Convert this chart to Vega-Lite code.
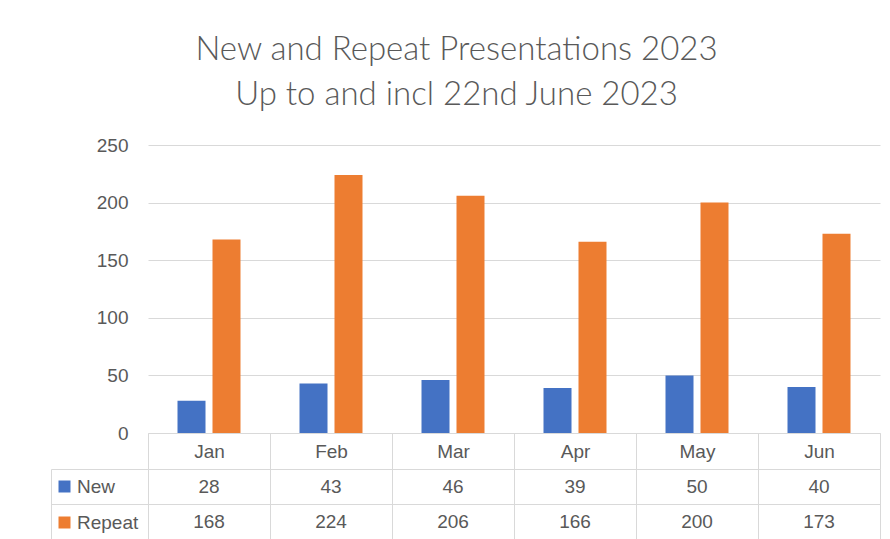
{
  "$schema": "https://vega.github.io/schema/vega-lite/v6.json",
  "background": "white",
  "padding": {"left": 50, "top": 34, "right": 5, "bottom": 0},
  "title": {
    "text": ["New and Repeat Presentations 2023", "Up to and incl 22nd June 2023"],
    "font": "Lato",
    "fontSize": 33,
    "fontWeight": 300,
    "color": "#595959",
    "lineHeight": 45,
    "anchor": "middle",
    "dx": -9,
    "offset": 24
  },
  "data": {
    "values": [
      {"month": "Jan", "series": "New", "value": 28},
      {"month": "Feb", "series": "New", "value": 43},
      {"month": "Mar", "series": "New", "value": 46},
      {"month": "Apr", "series": "New", "value": 39},
      {"month": "May", "series": "New", "value": 50},
      {"month": "Jun", "series": "New", "value": 40},
      {"month": "Jan", "series": "Repeat", "value": 168},
      {"month": "Feb", "series": "Repeat", "value": 224},
      {"month": "Mar", "series": "Repeat", "value": 206},
      {"month": "Apr", "series": "Repeat", "value": 166},
      {"month": "May", "series": "Repeat", "value": 200},
      {"month": "Jun", "series": "Repeat", "value": 173}
    ]
  },
  "spacing": 36,
  "bounds": "flush",
  "resolve": {"legend": {"color": "independent"}},
  "vconcat": [
    {
      "width": 732,
      "height": 288,
      "mark": {"type": "bar"},
      "encoding": {
        "x": {
          "field": "month", "type": "nominal",
          "sort": ["Jan", "Feb", "Mar", "Apr", "May", "Jun"],
          "scale": {"paddingInner": 0, "paddingOuter": 0},
          "axis": {
            "title": null, "labelAngle": 0, "domain": true, "domainColor": "#d9d9d9",
            "ticks": true, "tickBand": "extent", "tickSize": 36, "tickColor": "#d9d9d9",
            "labelPadding": -18, "labelBaseline": "middle", "grid": false
          }
        },
        "xOffset": {
          "field": "series", "type": "nominal", "sort": ["New", "Repeat"],
          "scale": {"paddingInner": 0.2, "paddingOuter": 0.843}
        },
        "y": {
          "field": "value", "type": "quantitative",
          "scale": {"domain": [0, 250]},
          "axis": {
            "title": null, "values": [0, 50, 100, 150, 200, 250],
            "domain": false, "ticks": false, "labelPadding": 20,
            "grid": true, "gridColor": "#d9d9d9"
          }
        },
        "color": {
          "field": "series", "type": "nominal", "sort": ["New", "Repeat"],
          "scale": {"range": ["#4472C4", "#ED7D31"]},
          "legend": {
            "orient": "none", "legendX": -93, "legendY": 332, "title": null,
            "symbolType": "square", "symbolSize": 144, "symbolStrokeWidth": 0,
            "labelFont": "Liberation Sans", "labelFontSize": 19, "labelColor": "#595959",
            "labelOffset": 3, "rowPadding": 16, "padding": 0
          }
        }
      }
    },
    {
      "width": 732,
      "height": 70,
      "mark": {"type": "text", "font": "Liberation Sans", "fontSize": 19, "color": "#595959"},
      "encoding": {
        "x": {
          "field": "month", "type": "nominal",
          "sort": ["Jan", "Feb", "Mar", "Apr", "May", "Jun"],
          "scale": {"paddingInner": 0, "paddingOuter": 0},
          "axis": {
            "title": null, "labels": false, "ticks": false, "domain": false,
            "grid": true, "tickBand": "extent", "gridColor": "#d9d9d9"
          }
        },
        "y": {
          "field": "series", "type": "nominal", "sort": ["New", "Repeat"],
          "scale": {"paddingInner": 0, "paddingOuter": 0},
          "axis": {
            "title": null, "labels": false, "offset": 97,
            "domain": true, "domainColor": "#d9d9d9",
            "ticks": true, "tickSize": -97, "tickBand": "extent", "tickColor": "#d9d9d9",
            "grid": true, "gridColor": "#d9d9d9"
          }
        },
        "text": {"field": "value", "type": "quantitative"}
      }
    }
  ],
  "config": {
    "view": {"stroke": null},
    "axis": {"labelFont": "Liberation Sans", "labelFontSize": 19, "labelColor": "#595959"}
  }
}
